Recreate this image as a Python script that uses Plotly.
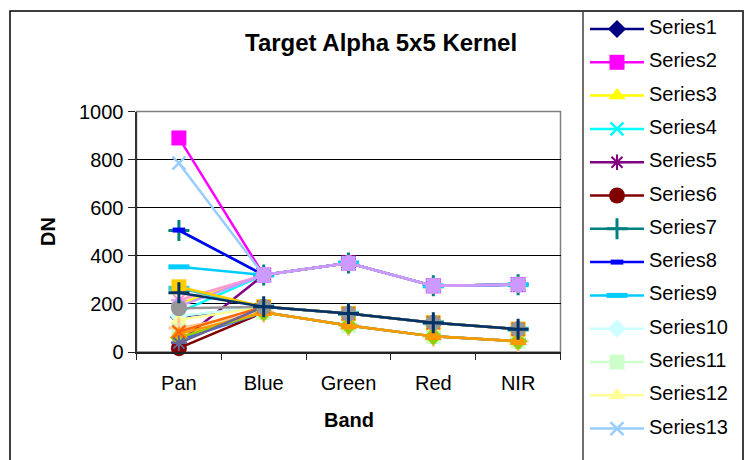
import plotly.graph_objects as go

W, H = 744, 460

bands = ["Pan", "Blue", "Green", "Red", "NIR"]

# DN per band for each series
series1 = [147, 188, 160, 122, 95]
series2 = [890, 320, 370, 275, 280]
series3 = [200, 320, 370, 275, 280]
series4 = [165, 320, 370, 275, 280]
series5 = [40, 320, 370, 275, 280]
series6 = [16, 165, 110, 65, 45]
series7 = [505, 320, 370, 275, 280]
series8 = [507, 320, 370, 275, 280]
series9 = [354, 320, 370, 275, 280]
series10 = [150, 188, 160, 122, 95]
series11 = [95, 165, 110, 65, 45]
series12 = [133, 188, 160, 122, 95]
series13 = [785, 320, 370, 275, 280]
series14 = [215, 320, 370, 275, 280]
series15 = [190, 320, 370, 275, 280]
series16 = [100, 165, 110, 65, 45]
series17 = [50, 165, 110, 65, 45]
series18 = [265, 188, 160, 122, 95]
series19 = [60, 165, 110, 65, 45]
series20 = [271, 188, 160, 122, 95]
series21 = [75, 165, 110, 65, 45]
series22 = [84, 188, 160, 122, 95]
series23 = [37, 188, 160, 122, 95]
series24 = [182, 188, 160, 122, 95]
series25 = [246, 188, 160, 122, 95]

all_series = [series1, series2, series3, series4, series5, series6, series7,
              series8, series9, series10, series11, series12, series13,
              series14, series15, series16, series17, series18, series19,
              series20, series21, series22, series23, series24, series25]
names = ["Series%d" % (i + 1) for i in range(len(all_series))]

colors = ["#000080", "#FF00FF", "#FFFF00", "#00FFFF", "#800080", "#800000",
          "#008080", "#0000FF", "#00CCFF", "#CCFFFF", "#CCFFCC", "#FFFF99",
          "#99CCFF", "#FF99CC", "#CC99FF", "#FFCC99", "#3366FF", "#33CCCC",
          "#99CC00", "#FFCC00", "#FF9900", "#FF6600", "#666699", "#969696",
          "#003366"]

# marker cycle: (symbol, size, outline width for line-type symbols)
marker_cycle = [
    ("diamond", 14, 0),
    ("square", 15, 0),
    ("triangle-up", 15, 0),
    ("x-thin-open", 13, 2.5),
    ("asterisk-open", 13, 2),
    ("circle", 16, 0),
    ("cross-thin-open", 15, 3),
    ("line-ew-open", 9, 5),
    ("line-ew-open", 15, 5),
]


def marker_for(i, color):
    sym, size, lw = marker_cycle[i % len(marker_cycle)]
    if lw:
        return dict(symbol=sym, size=size, color=color,
                    line=dict(color=color, width=lw))
    return dict(symbol=sym, size=size, color=color, line=dict(width=0))


def px_x(x):
    return x / W


def px_y(y):
    return 1 - y / H


fig = go.Figure()

for i, (vals, name, col) in enumerate(zip(all_series, names, colors)):
    fig.add_trace(go.Scatter(
        x=bands, y=vals, name=name, mode="lines+markers",
        line=dict(color=col, width=2.5),
        marker=marker_for(i, col),
        cliponaxis=False, showlegend=False,
        xaxis="x", yaxis="y",
    ))

# hand-built legend panel on its own pixel-scaled axes;
# only the rows that start inside the page are drawn
leg_y0, leg_step = 29, 33.3
for i, (name, col) in enumerate(zip(names, colors)):
    yy = leg_y0 + leg_step * i
    if yy - 12 > H:
        break
    fig.add_trace(go.Scatter(
        x=[590, 644], y=[yy, yy], mode="lines",
        line=dict(color=col, width=2.5), showlegend=False,
        hoverinfo="skip", cliponaxis=False, xaxis="x2", yaxis="y2",
    ))
    fig.add_trace(go.Scatter(
        x=[617], y=[yy], mode="markers", marker=marker_for(i, col),
        showlegend=False, hoverinfo="skip", cliponaxis=False,
        xaxis="x2", yaxis="y2",
    ))
    fig.add_trace(go.Scatter(
        x=[649], y=[yy], mode="text", text=[name],
        textposition="middle right",
        textfont=dict(family="Liberation Sans, Arial", size=20, color="black"),
        showlegend=False, hoverinfo="skip", cliponaxis=False,
        xaxis="x2", yaxis="y2",
    ))

font = dict(family="Liberation Sans, Arial", size=20, color="black")

fig.update_layout(
    width=W, height=H,
    margin=dict(l=0, r=0, t=0, b=0, pad=0, autoexpand=False),
    paper_bgcolor="white", plot_bgcolor="white",
    font=font,
    xaxis=dict(
        domain=[px_x(136.5), px_x(560.5)],
        type="category", categoryorder="array", categoryarray=bands,
        range=[-0.5, 4.5],
        showline=True, linecolor="#222222", linewidth=1.5,
        ticks="outside", tickson="boundaries", ticklen=6, tickcolor="#222222",
        ticklabelstandoff=12,
        showgrid=False, zeroline=False, tickfont=font,
        anchor="y", automargin=False,
    ),
    yaxis=dict(
        domain=[px_y(352), px_y(111.5)],
        range=[0, 1000], tickvals=[0, 200, 400, 600, 800, 1000],
        showline=True, linecolor="#333333", linewidth=2,
        ticks="outside", ticklen=7, tickcolor="#222222",
        showgrid=True, gridcolor="black", gridwidth=1,
        zeroline=False, tickfont=font,
        anchor="x", automargin=False,
    ),
    xaxis2=dict(domain=[px_x(583), px_x(743)], range=[583, 743],
                visible=False, anchor="y2", automargin=False),
    yaxis2=dict(domain=[0, 1], range=[H, 0], visible=False, anchor="x2",
                automargin=False),
    shapes=[
        # outer chart frame
        dict(type="rect", xref="paper", yref="paper",
             x0=px_x(10), x1=px_x(743), y0=-0.1, y1=px_y(11),
             line=dict(color="black", width=1.5), layer="below"),
        # plot area frame
        dict(type="rect", xref="paper", yref="paper",
             x0=px_x(136.5), x1=px_x(560.5), y0=px_y(352), y1=px_y(111.5),
             line=dict(color="#808080", width=1.5), layer="below"),
        # legend box
        dict(type="rect", xref="paper", yref="paper",
             x0=px_x(583), x1=px_x(743), y0=-0.1, y1=px_y(11),
             line=dict(color="#404040", width=1.5), layer="below"),
    ],
    annotations=[
        dict(text="<b>Target Alpha 5x5 Kernel</b>", xref="paper", yref="paper",
             x=px_x(381), y=px_y(42), xanchor="center", yanchor="middle",
             showarrow=False,
             font=dict(family="Liberation Sans, Arial", size=24, color="black")),
        dict(text="<b>DN</b>", xref="paper", yref="paper", textangle=-90,
             x=px_x(48), y=px_y(232), xanchor="center", yanchor="middle",
             showarrow=False, font=font),
        dict(text="<b>Band</b>", xref="paper", yref="paper",
             x=px_x(349), y=px_y(420), xanchor="center", yanchor="middle",
             showarrow=False, font=font),
    ],
)

fig.write_html("out.html")
